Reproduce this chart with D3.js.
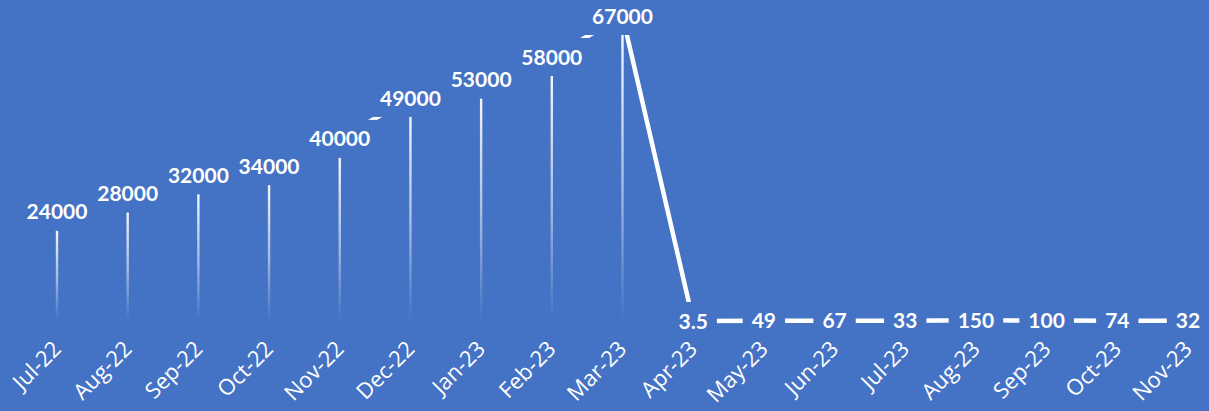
<!DOCTYPE html>
<html>
<head>
<meta charset="utf-8">
<script src="https://cdn.jsdelivr.net/npm/d3@7"></script>
<style>
	body { margin: 0; background: #4472C4; }
	svg { display: block; }
</style>
</head>
<body>
<svg id="chart"></svg>
<script>
var months = ["Jul-22", "Aug-22", "Sep-22", "Oct-22", "Nov-22", "Dec-22", "Jan-23", "Feb-23", "Mar-23",
	"Apr-23", "May-23", "Jun-23", "Jul-23", "Aug-23", "Sep-23", "Oct-23", "Nov-23"]
var values = [24000, 28000, 32000, 34000, 40000, 49000, 53000, 58000, 67000,
	3.5, 49, 67, 33, 150, 100, 74, 32]
var valueLabels = ["24000", "28000", "32000", "34000", "40000", "49000", "53000", "58000", "67000",
	"3.5", "49", "67", "33", "150", "100", "74", "32"]

var width = 1209,
	height = 411,
	bg = "#4472C4"

var data = months.map(function (m, i) {
	return { month: m, value: values[i], label: valueLabels[i] }
})

var svg = d3.select("#chart")
	.attr("width", width)
	.attr("height", height)

svg.append("rect")
	.attr("width", width)
	.attr("height", height)
	.attr("fill", bg)

var x = d3.scalePoint()
	.domain(months)
	.range([57, 1188])

var y = d3.scaleLinear()
	.domain([0, 67000])
	.range([321, 16])

// fading drop lines
var grad = svg.append("defs").append("linearGradient")
	.attr("id", "dropfade")
	.attr("x1", 0).attr("y1", 0)
	.attr("x2", 0).attr("y2", 1)
grad.append("stop").attr("offset", "0%").attr("stop-color", "#fff").attr("stop-opacity", 0.95)
grad.append("stop").attr("offset", "55%").attr("stop-color", "#fff").attr("stop-opacity", 0.5)
grad.append("stop").attr("offset", "100%").attr("stop-color", "#fff").attr("stop-opacity", 0)

svg.selectAll(".drop")
	.data(data.filter(function (d) { return y(0) - y(d.value) > 20 }))
	.enter()
	.append("rect")
	.attr("class", "drop")
	.attr("x", function (d) { return x(d.month) - 1.2 })
	.attr("y", function (d) { return y(d.value) + 17 })
	.attr("width", 2.4)
	.attr("height", function (d) { return y(0) - y(d.value) - 17 })
	.attr("fill", "url(#dropfade)")

var line = d3.line()
	.x(function (d) { return x(d.month) })
	.y(function (d) { return y(d.value) })

svg.append("path")
	.datum(data)
	.attr("d", line)
	.attr("fill", "none")
	.attr("stroke", "#fff")
	.attr("stroke-width", 4.5)
	.attr("stroke-linejoin", "miter")

// data labels with boxes covering the line
var labels = svg.selectAll(".lbl")
	.data(data)
	.enter()
	.append("g")
	.attr("class", "lbl")
	.attr("transform", function (d) { return "translate(" + x(d.month) + "," + y(d.value) + ")" })

labels.append("rect")
	.attr("fill", bg)

labels.append("text")
	.attr("text-anchor", "middle")
	.attr("dy", "0.36em")
	.style("font-family", "Lato, 'Open Sans', sans-serif")
	.style("font-weight", "bold")
	.style("font-size", "21px")
	.attr("fill", "#fff")
	.text(function (d) { return d.label })

labels.each(function () {
	var g = d3.select(this)
	var b = g.select("text").node().getBBox()
	g.select("rect")
		.attr("x", b.x - 9)
		.attr("y", -19)
		.attr("width", b.width + 18)
		.attr("height", 38)
})

// rotated month labels
svg.selectAll(".tick-lbl")
	.data(months)
	.enter()
	.append("text")
	.attr("class", "tick-lbl")
	.attr("transform", function (d) { return "translate(" + x(d) + ",345) rotate(-45)" })
	.attr("text-anchor", "end")
	.attr("dy", "0.35em")
	.style("font-family", "'Open Sans', Lato, sans-serif")
	.style("font-size", "22px")
	.attr("fill", "#fff")
	.text(function (d) { return d })
</script>
</body>
</html>
